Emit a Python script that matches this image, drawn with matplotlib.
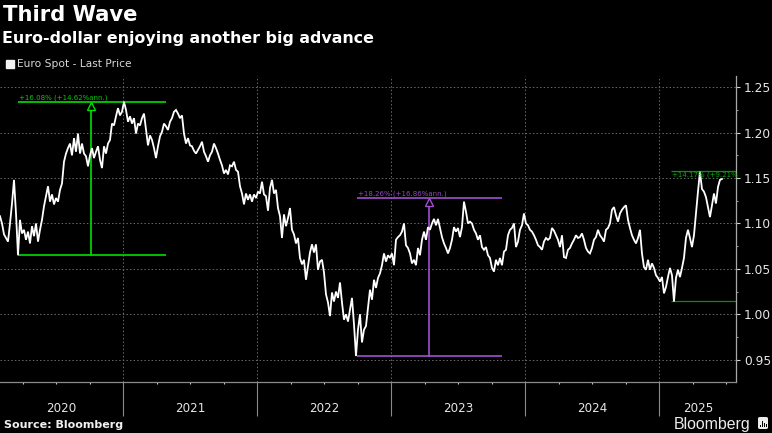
import numpy as np
import matplotlib
matplotlib.use("Agg")
import matplotlib.pyplot as plt
from matplotlib.patches import FancyBboxPatch, Rectangle

# Weekly-ish Euro spot readings, one every ~5.4 days from early 2020
prices_a = [1.108,1.100,1.088,1.084,1.080,1.100,1.122,1.148,1.111,1.065,1.104,1.089,1.093,1.082,1.091,1.078,
            1.097,1.086,1.100,1.080,1.093,1.104,1.119,1.130,1.141,1.124,1.132,1.121,1.128,1.124,1.137,1.144,
            1.168,1.177,1.183,1.188,1.175,1.194,1.179,1.199,1.177,1.188,1.177,1.174,1.163,1.175,1.183,1.172,
            1.179,1.185,1.170,1.161,1.185,1.177,1.188,1.192,1.210,1.208,1.218,1.227,1.219,1.223,1.234,1.225,
            1.212,1.218,1.210,1.216,1.199,1.210,1.208,1.216,1.221,1.203,1.186,1.197,1.192,1.183,1.172,1.185,
            1.196,1.201,1.210,1.207,1.203,1.212,1.216,1.223,1.225,1.221,1.216,1.219,1.199,1.188,1.194,1.186]
prices_b = [1.185,1.180,1.177,1.181,1.185,1.190,1.179,1.174,1.168,1.175,1.179,1.188,1.183,1.177,1.170,1.164,
            1.155,1.159,1.154,1.164,1.163,1.168,1.159,1.157,1.141,1.133,1.121,1.133,1.126,1.132,1.124,1.132,
            1.128,1.135,1.133,1.146,1.132,1.130,1.114,1.139,1.148,1.133,1.137,1.117,1.108,1.084,1.110,1.097,
            1.106,1.117,1.093,1.088,1.078,1.084,1.062,1.055,1.060,1.038,1.053,1.068,1.077,1.068,1.077,1.049,
            1.058,1.060,1.046,1.022,1.013,0.998,1.024,1.014,1.025,1.018,1.035,1.013,0.994,1.000,0.992,1.005,
            1.018,0.989,0.954,0.983,1.000,0.969,0.983,0.987,1.007]
prices_c = [1.027,1.016,1.038,1.029,1.040,1.045,1.054,1.067,1.058,1.065,1.062,1.067,1.054,1.082,1.085,1.087,
            1.091,1.100,1.076,1.073,1.067,1.056,1.060,1.054,1.073,1.065,1.082,1.091,1.082,1.096,1.093,1.100,
            1.105,1.098,1.105,1.095,1.085,1.078,1.073,1.067,1.073,1.082,1.096,1.091,1.095,1.085,1.096,1.124,
            1.113,1.100,1.102,1.100,1.093,1.089,1.082,1.087,1.074,1.071,1.074,1.065,1.062,1.051,1.047,1.060,
            1.054,1.062,1.054,1.069,1.071,1.087,1.093,1.095,1.100,1.074,1.080,1.093,1.098,1.111,1.100,1.098,
            1.093,1.091,1.087,1.082,1.076,1.074,1.071,1.080,1.084,1.082]
prices_d = [1.084,1.095,1.092,1.087,1.082,1.074,1.087,1.063,1.062,1.071,1.073,1.078,1.082,1.087,1.084,1.085,
            1.089,1.082,1.073,1.069,1.067,1.073,1.082,1.085,1.093,1.087,1.084,1.080,1.093,1.095,1.100,1.115,
            1.118,1.109,1.102,1.111,1.115,1.118,1.120,1.104,1.095,1.087,1.082,1.078,1.084,1.093,1.067,1.052,
            1.049,1.060,1.049,1.056,1.051,1.043,1.040,1.036,1.041,1.023,1.030,1.041,1.051,1.043,1.014,1.040,
            1.049,1.041,1.051,1.062,1.084,1.093,1.084,1.074,1.087,1.111,1.135,1.157,1.138,1.135,1.129,1.118,
            1.107,1.120,1.133,1.122,1.140,1.148,1.149]

year_labels = ["2020", "2021", "2022", "2023", "2024", "2025"]
y_ticks = [0.95, 1.00, 1.05, 1.10, 1.15, 1.20, 1.25]

# Measurement annotations: start/end dates, low, high, label
green_span = (2020.215, 2021.32, 1.0657, 1.2341)
green_mid = 2020.76
green_text = "+16.08% (+14.62%ann.)"
purple_span = (2022.745, 2023.825, 0.9540, 1.1280)
purple_mid = 2023.28
purple_text = "+18.26% (+16.86%ann.)"
recent_span = (2025.09, 2025.575, 1.0141, 1.1580)
recent_text = "+14.17% (+9.21%"

W, H = 772, 433
fig = plt.figure(figsize=(W / 100, H / 100), dpi=100, facecolor="black")
plt.rcParams["font.family"] = "DejaVu Sans"
ax = fig.add_axes([0, 1 - 382 / H, 736.3 / W, (382 - 76) / H], facecolor="black")

prices = np.array(prices_a + prices_b + prices_c + prices_d)
dates = 2020.08 + np.arange(len(prices)) * 2 / 134

ax.set_xlim(2020.08, 2025.575)
ax.set_ylim(0.9254, 1.2624)

ax.set_axisbelow(True)
ax.grid(True, axis="both", which="major", color="#6a6a6a", lw=0.7, ls=(0, (1.5, 2.2)))

# annotation lines beneath the price line
GREEN = "#00e000"
PURPLE = "#a24fd0"
DARK = "#0b8f0b"
for (x0, x1, lo, hi), mid, col, txt in [(green_span, green_mid, GREEN, green_text),
                                        (purple_span, purple_mid, PURPLE, purple_text)]:
    ax.hlines([lo, hi], x0, x1, color=col, lw=1.2, zorder=2)
    ax.plot([mid, mid], [lo, hi - 0.004], color=col, lw=1.2, zorder=2)
    ax.plot([mid], [hi - 0.0045], marker="^", ms=5.2, mfc="black", mec=col, mew=1.0, zorder=4)
    ax.text(x0 + 0.005, hi + 0.0012, txt, color=col, fontsize=5.0, va="bottom", ha="left",
            alpha=0.9, zorder=5)

x0, x1, lo, hi = recent_span
ax.hlines([lo, hi], x0, x1, color=DARK, lw=0.9, zorder=2)
ax.text(x0 + 0.005, hi - 0.0012, recent_text, color="#0aa50a", fontsize=5.0, va="top", ha="left",
        zorder=5)

ax.plot(dates, prices, color="white", lw=1.3, solid_joinstyle="miter", zorder=3)

# spines and ticks
for s in ("left", "top"):
    ax.spines[s].set_visible(False)
ax.spines["right"].set_color("#a8a8a8")
ax.spines["bottom"].set_color("#8a8a8a")
ax.spines["right"].set_linewidth(0.9)
ax.spines["bottom"].set_linewidth(0.9)

ax.yaxis.tick_right()
ax.set_yticks(y_ticks)
ax.set_yticklabels([f"{v:.2f}" for v in y_ticks], fontsize=8.8, color="#e6e6e6")
ax.set_yticks([v + 0.025 for v in y_ticks[:-1]], minor=True)
ax.tick_params(axis="y", which="major", length=2.6, width=0.8, color="#d0d0d0", pad=3)
ax.tick_params(axis="y", which="minor", length=1.5, width=0.7, color="#a0a0a0")

year_edges = [2021, 2022, 2023, 2024, 2025]
ax.set_xticks(year_edges)
ax.set_xticklabels([])
ax.set_xticks([y + q for y in range(2020, 2026) for q in (0.25, 0.5, 0.75) if y + q < 2025.57], minor=True)
ax.tick_params(axis="x", which="major", length=24.5, width=0.8, color="#8a8a8a")
ax.tick_params(axis="x", which="minor", length=1.6, width=0.8, color="#c8c8c8")

edges = [2020.08] + year_edges + [2025.575]
trans = ax.get_xaxis_transform()
for i, lab in enumerate(year_labels):
    ax.text((edges[i] + edges[i + 1]) / 2, -26 / 306, lab, transform=trans, ha="center", va="center",
            fontsize=8.6, color="#e6e6e6", clip_on=False)

# titles
def px(x, y):
    return x / W, 1 - y / H

fig.text(*px(3, 15), "Third Wave", fontsize=15.2, fontweight="bold", color="white", va="center", ha="left")
fig.text(*px(1.5, 38), "Euro-dollar enjoying another big advance", fontsize=11.4, fontweight="bold",
         color="white", va="center", ha="left")
fig.patches.append(Rectangle(px(6, 68), 8 / W, 8 / H, transform=fig.transFigure, color="#f2f2f2"))
fig.text(*px(17, 64), "Euro Spot - Last Price", fontsize=7.7, color="#d8d8d8", va="center", ha="left")
fig.text(*px(4, 425), "Source: Bloomberg", fontsize=8.0, fontweight="bold", color="#f0f0f0", va="center", ha="left")
fig.text(*px(673.5, 424), "Bloomberg", fontsize=11.4, color="#ececec", va="center", ha="left",
         family="Liberation Sans")

# Bloomberg logo tile
fig.patches.append(FancyBboxPatch(px(758, 429), 10 / W, 12 / H, boxstyle="round,pad=0,rounding_size=0.003",
                                  transform=fig.transFigure, fc="#ececec", ec="none"))
for bx, top in [(760, 425), (762.2, 421), (764.2, 423), (766, 424)]:
    fig.patches.append(Rectangle(px(bx, 427), 1.0 / W, (427 - top) / H, transform=fig.transFigure,
                                 fc="black", ec="none"))

fig.savefig("out.png", dpi=100, facecolor="black")
